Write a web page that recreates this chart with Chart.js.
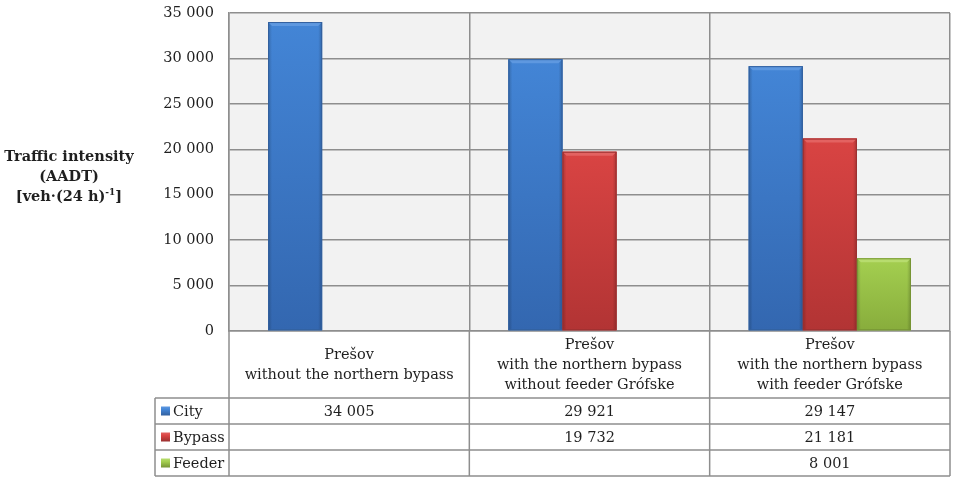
<!DOCTYPE html>
<html>
<head>
<meta charset="utf-8">
<script src="https://cdn.jsdelivr.net/npm/chart.js@4.4.1/dist/chart.umd.min.js"></script>
<style>
  body { margin: 0; background: #fff; }
  #wrap { width: 953px; height: 477px; }
</style>
</head>
<body>
<div id="wrap"><canvas id="traffic"></canvas></div>
<script>
// scenarios on the x axis (multi-line labels)
var categories = [
  ["Prešov", "without the northern bypass"],
  ["Prešov", "with the northern bypass", "without feeder Grófske"],
  ["Prešov", "with the northern bypass", "with feeder Grófske"]
];
var seriesNames = ["City", "Bypass", "Feeder"];
var city = [34005, 29921, 29147];
var bypass = [null, 19732, 21181];
var feeder = [null, null, 8001];
var yMax = 35000;
var yStep = 5000;
var titleLines = ["Traffic intensity", "(AADT)"];

var FONT = "DejaVu Serif";
var FSIZE = 14.5;
var INK = "#1f1f1f";
var LINE = "#8e8e8e";

var palette = [
  { base: "#3c7bcb", top: "#4385d6", bottom: "#3367b0", edge: "#33609e", light: "#5e98e0" },
  { base: "#cf3f3e", top: "#d94443", bottom: "#b23434", edge: "#9a3030", light: "#e36261" },
  { base: "#9bc74a", top: "#a4cf50", bottom: "#88ad3c", edge: "#769434", light: "#b7dc6e" }
];

function fmt(v) {
  return String(v).replace(/\B(?=(\d{3})+(?!\d))/g, " ");
}

function font(weight, size) {
  return weight + " " + size + "px '" + FONT + "'";
}

// fill plot background
var plotBg = {
  id: "plotBg",
  beforeDraw: function (chart) {
    var a = chart.chartArea, ctx = chart.ctx;
    ctx.save();
    ctx.fillStyle = "#f2f2f2";
    ctx.fillRect(a.left, a.top, a.right - a.left, a.bottom - a.top);
    ctx.restore();
  }
};

// give the bars an office-style bevel
var barShade = {
  id: "barShade",
  afterDatasetsDraw: function (chart) {
    var ctx = chart.ctx;
    ctx.save();
    chart.data.datasets.forEach(function (ds, i) {
      var pal = palette[i];
      chart.getDatasetMeta(i).data.forEach(function (bar, j) {
        if (ds.data[j] == null) return;
        var l = bar.x - bar.width / 2, r = bar.x + bar.width / 2;
        var t = bar.y, b = bar.base, e = 4;
        var g = ctx.createLinearGradient(0, t, 0, b);
        g.addColorStop(0, pal.top);
        g.addColorStop(1, pal.bottom);
        ctx.fillStyle = g;
        ctx.fillRect(l, t, r - l, b - t);
        // sides
        var gl = ctx.createLinearGradient(l, 0, l + e, 0);
        gl.addColorStop(0, "rgba(0,0,0,0.2)");
        gl.addColorStop(1, "rgba(0,0,0,0)");
        ctx.fillStyle = gl;
        ctx.fillRect(l, t, e, b - t);
        var gr = ctx.createLinearGradient(r, 0, r - e, 0);
        gr.addColorStop(0, "rgba(0,0,0,0.2)");
        gr.addColorStop(1, "rgba(0,0,0,0)");
        ctx.fillStyle = gr;
        ctx.fillRect(r - e, t, e, b - t);
        // top bevel
        ctx.beginPath();
        ctx.moveTo(l, t);
        ctx.lineTo(r, t);
        ctx.lineTo(r - e, t + e);
        ctx.lineTo(l + e, t + e);
        ctx.closePath();
        ctx.fillStyle = pal.light;
        ctx.fill();
        // outline
        ctx.strokeStyle = pal.edge;
        ctx.lineWidth = 1;
        ctx.strokeRect(l + 0.5, t + 0.5, r - l - 1, b - t - 1);
      });
    });
    ctx.restore();
  }
};

// data table under the x axis
var dataTable = {
  id: "dataTable",
  afterDraw: function (chart) {
    var ctx = chart.ctx, a = chart.chartArea;
    var headerH = 67, rowH = 26, keyLeft = 155;
    var cw = (a.right - a.left) / categories.length;
    var rowTop = a.bottom + headerH;
    var rows = [city, bypass, feeder];
    var bottom = rowTop + rows.length * rowH;
    ctx.save();
    ctx.strokeStyle = LINE;
    ctx.lineWidth = 1.5;
    ctx.beginPath();
    for (var k = 0; k <= categories.length; k++) {
      ctx.moveTo(a.left + k * cw, a.bottom);
      ctx.lineTo(a.left + k * cw, bottom);
    }
    ctx.moveTo(keyLeft, rowTop);
    ctx.lineTo(keyLeft, bottom);
    for (var r = 0; r <= rows.length; r++) {
      ctx.moveTo(keyLeft, rowTop + r * rowH);
      ctx.lineTo(a.right, rowTop + r * rowH);
    }
    ctx.stroke();

    ctx.font = font("normal", FSIZE);
    ctx.textBaseline = "middle";
    rows.forEach(function (vals, i) {
      var cy = rowTop + i * rowH + rowH / 2;
      var pal = palette[i];
      var g = ctx.createLinearGradient(0, cy - 4.5, 0, cy + 4.5);
      g.addColorStop(0, pal.light);
      g.addColorStop(0.35, pal.top);
      g.addColorStop(1, pal.edge);
      ctx.fillStyle = g;
      ctx.fillRect(keyLeft + 6, cy - 4.5, 9, 9);
      ctx.fillStyle = INK;
      ctx.textAlign = "left";
      ctx.fillText(seriesNames[i], keyLeft + 18, cy + 1);
      ctx.textAlign = "center";
      vals.forEach(function (v, j) {
        if (v == null) return;
        ctx.fillText(fmt(v), a.left + (j + 0.5) * cw, cy + 1);
      });
    });
    ctx.restore();
  }
};

// horizontal y axis title with a superscript
var axisTitle = {
  id: "axisTitle",
  afterDraw: function (chart) {
    var ctx = chart.ctx, cx = 69;
    ctx.save();
    ctx.fillStyle = INK;
    ctx.textBaseline = "middle";
    ctx.textAlign = "center";
    ctx.font = font("bold", FSIZE);
    ctx.fillText(titleLines[0], cx, 157);
    ctx.fillText(titleLines[1], cx, 177);
    var p1 = "[veh·(24 h)", sup = "-1", p2 = "]";
    var w1 = ctx.measureText(p1).width, w2 = ctx.measureText(p2).width;
    ctx.font = font("bold", 9);
    var ws = ctx.measureText(sup).width;
    var x0 = cx - (w1 + ws + w2) / 2;
    ctx.textAlign = "left";
    ctx.font = font("bold", FSIZE);
    ctx.fillText(p1, x0, 197);
    ctx.fillText(p2, x0 + w1 + ws, 197);
    ctx.font = font("bold", 9);
    ctx.fillText(sup, x0 + w1, 193);
    ctx.restore();
  }
};

var ctx = document.getElementById("traffic");

var trafficChart = new Chart(ctx, {
  type: "bar",
  data: {
    labels: categories,
    datasets: [
      { label: seriesNames[0], data: city, backgroundColor: palette[0].base },
      { label: seriesNames[1], data: bypass, backgroundColor: palette[1].base },
      { label: seriesNames[2], data: feeder, backgroundColor: palette[2].base }
    ]
  },
  options: {
    responsive: true,
    maintainAspectRatio: false,
    animation: false,
    layout: { autoPadding: false, padding: { top: 13, right: 3, bottom: 1, left: 0 } },
    datasets: { bar: { categoryPercentage: 0.675, barPercentage: 1 } },
    plugins: {
      legend: { display: false },
      tooltip: { enabled: false }
    },
    scales: {
      x: {
        grid: { color: LINE, lineWidth: 1.5, drawTicks: false, offset: true },
        border: { color: LINE, width: 1.5 },
        ticks: {
          color: INK,
          padding: 14,
          maxRotation: 0,
          autoSkip: false,
          crossAlign: "center",
          font: { family: FONT, size: FSIZE, lineHeight: 1.38 }
        },
        afterFit: function (scale) { scale.height = 145; }
      },
      y: {
        min: 0,
        max: yMax,
        grid: { color: LINE, lineWidth: 1.5, drawTicks: false },
        border: { color: LINE, width: 1.5 },
        ticks: {
          stepSize: yStep,
          color: INK,
          padding: 15,
          font: { family: FONT, size: FSIZE },
          callback: function (v) { return fmt(v); }
        },
        afterFit: function (scale) {
          scale.width = 229;
          scale.paddingTop = 0;
          scale.paddingBottom = 0;
        }
      }
    }
  },
  plugins: [plotBg, barShade, dataTable, axisTitle]
});
</script>
</body>
</html>
